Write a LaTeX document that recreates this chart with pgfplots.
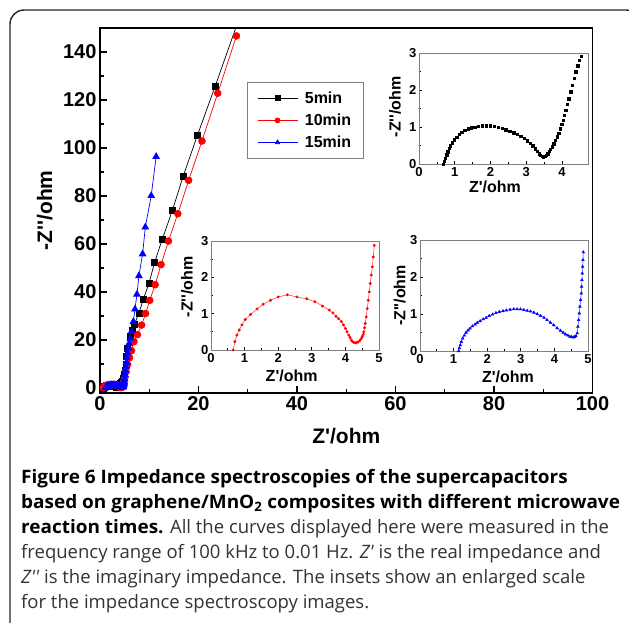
\documentclass[border=0pt]{standalone}
\usepackage{fontspec}
\setmainfont{Liberation Sans}
\newfontfamily\capfont{Open Sans}[BoldFeatures={FakeStretch=1.025}]
\usepackage{pgfplots}
\usepackage{pgfplotstable}
\pgfplotsset{compat=1.18}

% 5 min
\pgfplotstableread{
x y
0.68 0.00
0.71 0.08
0.74 0.16
0.77 0.25
0.80 0.33
0.84 0.42
0.88 0.50
0.93 0.58
0.99 0.66
1.05 0.73
1.12 0.80
1.20 0.86
1.28 0.91
1.37 0.95
1.46 0.98
1.56 1.00
1.66 1.02
1.77 1.03
1.88 1.03
1.99 1.03
2.10 1.02
2.21 0.99
2.32 0.96
2.43 0.93
2.54 0.89
2.65 0.85
2.75 0.80
2.85 0.75
2.94 0.69
3.03 0.63
3.11 0.56
3.18 0.49
3.25 0.41
3.31 0.34
3.36 0.28
3.40 0.24
3.44 0.21
3.48 0.20
3.52 0.21
3.56 0.24
3.60 0.28
3.64 0.34
3.68 0.40
3.72 0.47
3.77 0.55
3.82 0.64
3.87 0.74
3.91 0.84
3.95 0.95
3.99 1.07
4.03 1.19
4.07 1.32
4.11 1.46
4.15 1.61
4.19 1.77
4.24 1.95
4.29 2.13
4.34 2.32
4.39 2.50
4.44 2.66
4.49 2.80
4.54 2.92
4.70 3.80
4.90 5.50
5.10 7.50
5.30 10.0
5.45 13.0
5.60 16.5
6.10 21.4
6.60 24.0
7.00 26.5
7.90 31.1
8.80 37.0
9.95 43.6
11.1 52.4
12.65 62.0
14.7 74.0
16.9 88.3
19.8 105.4
23.4 125.8
27.7 150.8
}\fivemin

% 10 min
\pgfplotstableread{
x y
0.66 0.00
0.71 0.23
0.77 0.41
0.84 0.55
0.92 0.69
1.02 0.84
1.18 0.98
1.37 1.13
1.55 1.26
1.77 1.37
2.00 1.46
2.27 1.52
2.56 1.46
2.85 1.41
3.09 1.33
3.32 1.21
3.52 1.10
3.63 1.02
3.72 0.93
3.80 0.86
3.88 0.78
3.94 0.69
4.00 0.59
4.05 0.50
4.10 0.41
4.14 0.34
4.18 0.27
4.21 0.23
4.25 0.21
4.29 0.20
4.33 0.20
4.38 0.22
4.43 0.26
4.47 0.31
4.50 0.37
4.53 0.43
4.55 0.50
4.57 0.61
4.59 0.73
4.62 0.91
4.65 1.14
4.68 1.37
4.71 1.60
4.74 1.83
4.77 2.06
4.80 2.29
4.83 2.56
4.86 2.88
5.05 4.2
5.30 6.8
5.60 9.8
6.00 12.6
6.40 15.5
6.90 19.3
7.60 22.2
8.45 26.2
9.26 31.0
10.1 36.5
11.2 43.0
12.4 51.4
13.9 61.2
15.8 72.6
18.0 86.5
20.7 102.9
23.9 122.8
27.7 146.7
}\tenmin

% 15 min
\pgfplotstableread{
x y
1.15 0.00
1.17 0.08
1.20 0.16
1.23 0.25
1.27 0.34
1.32 0.42
1.37 0.50
1.43 0.56
1.49 0.61
1.56 0.67
1.64 0.72
1.71 0.77
1.79 0.81
1.88 0.86
1.97 0.90
2.06 0.95
2.16 0.99
2.26 1.03
2.36 1.06
2.47 1.08
2.57 1.10
2.68 1.12
2.79 1.13
2.89 1.13
2.99 1.13
3.09 1.11
3.19 1.09
3.29 1.07
3.39 1.04
3.49 1.00
3.59 0.95
3.69 0.90
3.78 0.84
3.88 0.77
3.98 0.70
4.08 0.62
4.18 0.55
4.26 0.50
4.33 0.45
4.40 0.42
4.46 0.39
4.51 0.38
4.56 0.37
4.60 0.38
4.64 0.40
4.68 0.48
4.70 0.66
4.72 0.84
4.74 1.02
4.76 1.20
4.78 1.38
4.80 1.56
4.81 1.74
4.82 1.92
4.83 2.10
4.84 2.28
4.85 2.46
4.86 2.67
4.95 3.8
5.10 5.5
5.20 7.0
5.30 8.8
5.40 10.5
5.50 12.5
5.60 14.5
5.75 16.5
5.90 18.5
6.15 20.5
6.40 23.5
6.77 27.6
7.10 32.8
7.50 39.0
7.90 46.7
8.65 55.8
9.20 67.0
10.4 80.1
11.4 96.4
}\fifteenmin

\pgfplotsset{
  inset/.style={
    scale only axis, anchor=south west,
    xmin=0, ymin=0, ymax=3, ytick={0,1,2,3},
    minor tick num=1, tick align=inside,
    xtick pos=bottom, ytick pos=left,
    axis line style={draw=gray, line width=0.9pt},
    major tick length=3pt, minor tick length=2pt,
    every tick/.style={black, line width=0.7pt},
    /pgf/number format/assume math mode=true,
    tick label style={font=\fontsize{13}{13}\selectfont\bfseries},
    xticklabel style={inner sep=3pt},
    yticklabel style={inner sep=2.5pt},
    label style={font=\fontsize{16}{16}\selectfont\bfseries},
    xlabel={Z\textquotesingle/ohm},
    ylabel={-Z\textquotesingle\textquotesingle/ohm},
    axis background/.style={fill=white},
    restrict y to domain=-0.1:3.05,
  },
}

\begin{document}
\begin{tikzpicture}
\useasboundingbox (0pt,0pt) rectangle (629pt,-622pt);
\begin{scope}
  \clip (0pt,0pt) rectangle (629pt,-622pt);
  \draw[line width=1.4pt, black!85, rounded corners=14pt] (10pt,-10pt) rectangle (640pt,-700pt);
\end{scope}

\begin{axis}[
  at={(100pt,-392.7pt)}, anchor=south west,
  scale only axis, width=492.5pt, height=364.7pt,
  xmin=0, xmax=100, ymin=-2, ymax=150,
  xtick={0,20,...,100}, ytick={0,20,...,140},
  minor tick num=1, tick align=inside,
  xtick pos=bottom, ytick pos=left,
  major tick length=7pt, minor tick length=4pt,
  axis line style={line width=1.8pt},
  every tick/.style={black, line width=1.4pt},
  /pgf/number format/assume math mode=true,
  tick label style={font=\fontsize{20}{20}\selectfont\bfseries},
  label style={font=\fontsize{21}{21}\selectfont\bfseries},
  xlabel={Z\textquotesingle/ohm},
  ylabel={-Z\textquotesingle\textquotesingle/ohm},
  xlabel style={at={(axis description cs:0.5,-0.12)}, anchor=center},
  ylabel style={at={(axis description cs:-0.112,0.5)}, anchor=center},
  legend style={at={(axis description cs:0.298,0.851)}, anchor=north west,
    draw=gray, line width=0.8pt, font=\fontsize{16}{16}\selectfont\bfseries,
    inner xsep=10pt, inner ysep=7pt, row sep=5pt,
    /tikz/every odd column/.append style={column sep=5pt}},
  legend cell align=left,
  legend image code/.code={\draw[mark repeat=2, mark phase=2, #1, mark size=2.5pt]
    plot coordinates {(0pt,0pt) (20pt,0pt) (40pt,0pt)};},
]
\addplot[black, line width=0.7pt, mark=square*, mark size=3pt] table {\fivemin};
\addlegendentry{5min}
\addplot[red, line width=0.7pt, mark=*, mark size=3.4pt] table {\tenmin};
\addlegendentry{10min}
\addplot[blue, line width=0.7pt, mark=triangle*, mark size=3.8pt] table {\fifteenmin};
\addlegendentry{15min}
\end{axis}

% inset 5 min
\begin{axis}[inset, at={(419pt,-164pt)}, width=169pt, height=111pt,
  xmax=4.73, xtick={0,1,2,3,4},
  xlabel style={at={(axis description cs:0.45,-0.21)}, anchor=center},
  ylabel style={at={(axis description cs:-0.142,0.516)}, anchor=center},
]
\addplot[only marks, black, mark=square*, mark size=1.2pt] table {\fivemin};
\end{axis}

% inset 10 min
\begin{axis}[inset, at={(211pt,-350pt)}, width=168pt, height=109pt,
  xmax=5, xtick={0,1,2,3,4,5},
  xlabel style={at={(axis description cs:0.48,-0.234)}, anchor=center},
  ylabel style={at={(axis description cs:-0.143,0.58)}, anchor=center},
]
\addplot[red!80, line width=0.5pt, mark=*, mark size=1.2pt, mark options={red}] table {\tenmin};
\end{axis}

% inset 15 min
\begin{axis}[inset, at={(420pt,-351pt)}, width=168pt, height=111pt,
  xmax=5, xtick={0,1,2,3,4,5},
  xlabel style={at={(axis description cs:0.524,-0.23)}, anchor=center},
  ylabel style={at={(axis description cs:-0.12,0.5)}, anchor=center},
]
\addplot[blue!80, line width=0.5pt, mark=triangle*, mark size=1.5pt, mark options={blue}] table {\fifteenmin};
\end{axis}

% caption
\begin{scope}[capfont/.style={font=\capfont\fontsize{18.5}{20}\selectfont, anchor=base west, inner sep=0pt}]
\node[capfont] at (21pt,-483pt) {\textbf{Figure 6 Impedance spectroscopies of the supercapacitors}};
\node[capfont] at (21pt,-508pt) {\textbf{based on graphene/MnO\textsubscript{2} composites with different microwave}};
\node[capfont] at (21pt,-533pt) {\textbf{reaction times.} \textcolor{black!80}{All the curves displayed here were measured in the}};
\node[capfont, text=black!80] at (21pt,-558pt) {frequency range of 100 kHz to 0.01 Hz. \textit{Z\textquotesingle} is the real impedance and};
\node[capfont, text=black!80] at (21pt,-583pt) {\textit{Z\textquotesingle\textquotesingle} is the imaginary impedance. The insets show an enlarged scale};
\node[capfont, text=black!80] at (21pt,-608pt) {for the impedance spectroscopy images.};
\end{scope}
\end{tikzpicture}
\end{document}
